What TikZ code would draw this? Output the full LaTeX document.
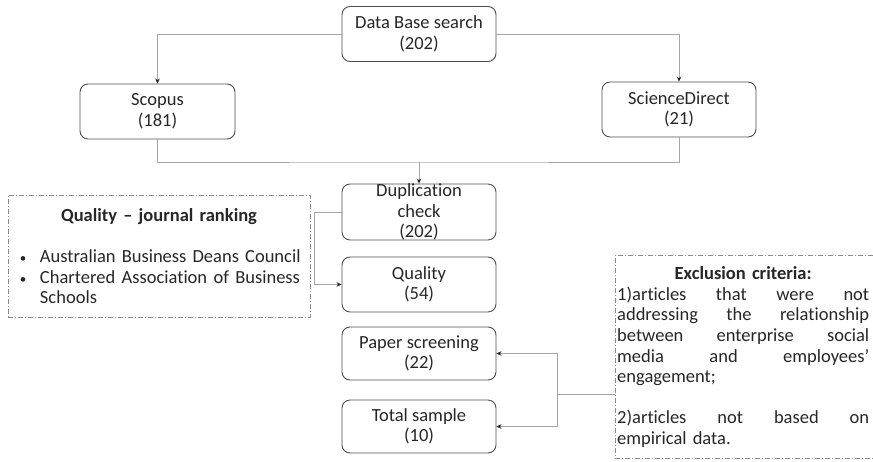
\documentclass[tikz,border=0pt]{standalone}
\usepackage{fontspec}
\setmainfont{Carlito}[Ligatures=CommonOff]
\usetikzlibrary{arrows.meta}
\definecolor{boxline}{HTML}{4D4D4D}
\definecolor{linkline}{HTML}{A6A6A6}
\definecolor{dashline}{HTML}{8C8C8C}
\definecolor{inktext}{HTML}{262626}
\newcommand{\smallbullet}{{\fontsize{13}{13}\selectfont •}}
\newcommand{\spreadline}[2]{\leavevmode\hbox to #1{#2}}
\begin{document}
\begin{tikzpicture}[x=1pt,y=-1pt,>={Stealth[length=5pt,width=4.5pt,color=inktext]},font=\fontsize{18.5}{20.6}\selectfont,text=inktext,
	stage/.style={draw=boxline,line width=0.9pt,rounded corners=8pt,minimum width=154pt,minimum height=55pt,inner sep=0pt,align=center},
	link/.style={draw=linkline,line width=0.7pt},
	dashdot/.style={draw=dashline,line width=0.9pt,dash pattern=on 5pt off 2pt on 1pt off 2pt}]
			\useasboundingbox (0,0) rectangle (873,461);
			% main column
			\node[stage] (dbs) at (419,34) {Data Base search\\(202)};
			\node[stage,minimum width=155pt] (scopus) at (157.5,111.5) {Scopus\\(181)};
			\node[stage] (sd) at (679,109.5) {ScienceDirect\\(21)};
			\node[stage,minimum height=56pt,inner ysep=-1.5pt] (dup) at (419,212) {Duplication\\check\\(202)};
			\node[stage] (qual) at (419,284.5) {Quality\\(54)};
			\node[stage,minimum height=53pt] (paper) at (419,353.5) {Paper screening\\(22)};
			\node[stage,minimum height=53pt] (total) at (419,426.5) {Total sample\\(10)};
			% side notes
			\node[dashdot,text width=302pt,minimum height=122pt,inner sep=0pt,align=left] (rank) at (159,256) {\makebox[302pt][c]{\textbf{Quality – journal ranking}}\\[20.6pt]
				\hspace*{12pt}\makebox[20pt][l]{\smallbullet}Australian Business Deans Council\\
				\hspace*{12pt}\makebox[20pt][l]{\smallbullet}\spreadline{260pt}{Chartered\hfill Association\hfill of\hfill Business}\\
				\hspace*{32pt}Schools};
			\node[anchor=west,text width=252pt,inner xsep=2pt,inner ysep=0pt,minimum height=202pt,align=left] (excl) at (615,357) {\makebox[252pt][c]{\textbf{Exclusion criteria:}}\\
				\spreadline{252pt}{1)articles\hfill that\hfill were\hfill not}\\
				\spreadline{252pt}{addressing\hfill the\hfill relationship}\\
				\spreadline{252pt}{between\hfill enterprise\hfill social}\\
				\spreadline{252pt}{media\hfill and\hfill employees’}\\
				engagement;\\[20.6pt]
				\spreadline{252pt}{2)articles\hfill not\hfill based\hfill on}\\
				empirical data.};
			\coordinate (edge) at (873,0);
			\draw[dashdot] (excl.north west -| edge) -- (excl.north west) -- (excl.south west) -- (excl.south west -| edge);
			% connectors
			\coordinate (merge) at (419,162);
			\coordinate (fork) at (557,394);
			\draw[link,->] (dbs.west) -| (scopus.north);
			\draw[link,->] (dbs.east) -| (sd.north);
			\draw[link] (scopus.south) |- (merge) -| (sd.south);
			\draw[link,->] (merge) -- (dup.north);
			\draw[link,->] (dup.west) -- ++(-27,0) |- (qual.west);
			\draw[link] (excl.west |- fork) -- (fork);
			\draw[link,->] (fork) |- (paper.east);
			\draw[link,->] (fork) |- (total.east);
	\end{tikzpicture}
\end{document}
